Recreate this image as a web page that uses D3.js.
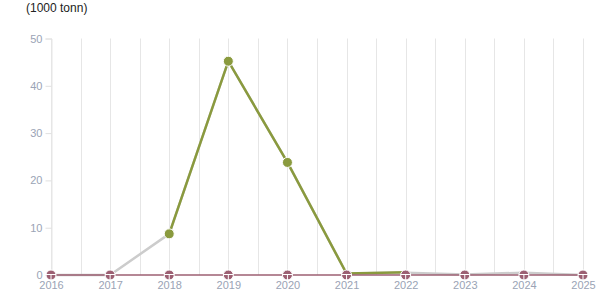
<!DOCTYPE html>
<html>
<head>
<meta charset="utf-8">
<script src="https://cdn.jsdelivr.net/npm/d3@7"></script>
<style>
  body { margin: 0; background: #fff; }
  svg { font-family: "Liberation Sans", Arial, sans-serif; }
</style>
</head>
<body>
<script>
// Data
const years = [2016, 2017, 2018, 2019, 2020, 2021, 2022, 2023, 2024, 2025];
const yTicks = [0, 10, 20, 30, 40, 50];
const greyValues = [0, 0, 8.7, 45.2, 23.8, 0.3, 0.5, 0.1, 0.5, 0];
const greenValues = [null, null, 8.7, 45.2, 23.8, 0.3, 0.6, null, null, null];
const mauveValues = [0, 0, 0, 0, 0, 0, 0, 0, 0, 0];

const width = 615;
const height = 305;

const svg = d3.select("body").append("svg")
    .attr("width", width)
    .attr("height", height);

const x = d3.scaleLinear().domain([2016, 2025]).range([51, 583]);
const y = d3.scaleLinear().domain([0, 50]).range([275, 38.5]);

// title
svg.append("text")
    .attr("x", 26).attr("y", 12)
    .attr("font-size", 12).attr("fill", "#222")
    .text("(1000 tonn)");

// vertical grid every half year
const gridVals = d3.range(2016, 2025.01, 0.5);
svg.append("g").selectAll("line")
    .data(gridVals)
    .enter().append("line")
    .attr("x1", d => Math.round(x(d)) + 0.5)
    .attr("x2", d => Math.round(x(d)) + 0.5)
    .attr("y1", y(50))
    .attr("y2", y(0))
    .attr("stroke", "#e6e6e6")
    .attr("stroke-width", 1);

// y axis
const yAxis = svg.append("g")
    .attr("transform", "translate(51.5,0)")
    .call(d3.axisLeft(y).tickValues(yTicks).tickSize(6).tickPadding(3));
yAxis.select(".domain").attr("stroke", "#e6e6e6");
yAxis.selectAll(".tick line").attr("stroke", "#e0e0e0");
yAxis.selectAll(".tick text").attr("fill", "#9aa3b5").attr("font-size", 11)
    .attr("font-family", "Liberation Sans, Arial, sans-serif");

// x axis labels
const xAxis = svg.append("g")
    .attr("transform", "translate(0,277)")
    .call(d3.axisBottom(x).tickValues(years).tickFormat(d3.format("d")).tickSize(0).tickPadding(4));
xAxis.select(".domain").remove();
xAxis.selectAll(".tick text").attr("fill", "#9aa3b5").attr("font-size", 11)
    .attr("font-family", "Liberation Sans, Arial, sans-serif");

const line = d3.line()
    .defined(d => d.v !== null)
    .x(d => x(d.year))
    .y(d => y(d.v));

const toPts = vals => years.map((yr, i) => ({ year: yr, v: vals[i] }));

// grey series
svg.append("path")
    .datum(toPts(greyValues))
    .attr("d", line)
    .attr("fill", "none")
    .attr("stroke", "#cccccc")
    .attr("stroke-width", 2.5);

// green series
const greenPts = toPts(greenValues);
svg.append("path")
    .datum(greenPts)
    .attr("d", line)
    .attr("fill", "none")
    .attr("stroke", "#8a9a3e")
    .attr("stroke-width", 2.5);

svg.append("g").selectAll("circle")
    .data(greenPts.filter(d => d.v !== null && d.v > 1))
    .enter().append("circle")
    .attr("cx", d => x(d.year))
    .attr("cy", d => y(d.v))
    .attr("r", 5)
    .attr("fill", "#8a9a3e")
    .attr("stroke", "#fff")
    .attr("stroke-width", 1);

// mauve series
const mauvePts = toPts(mauveValues);
svg.append("path")
    .datum(mauvePts)
    .attr("d", line)
    .attr("fill", "none")
    .attr("stroke", "#9c5f72")
    .attr("stroke-width", 1.5);

const mk = svg.append("g").selectAll("g")
    .data(mauvePts)
    .enter().append("g")
    .attr("transform", d => `translate(${x(d.year)},${y(d.v)})`);
mk.append("circle")
    .attr("r", 5)
    .attr("fill", "#9c5f72")
    .attr("stroke", "#fff")
    .attr("stroke-width", 1);
mk.append("line")
    .attr("x1", -5).attr("x2", 5).attr("y1", -0.5).attr("y2", -0.5)
    .attr("stroke", "#fff").attr("stroke-width", 1);
mk.append("line")
    .attr("x1", 0).attr("x2", 0).attr("y1", -0.5).attr("y2", 5)
    .attr("stroke", "#fff").attr("stroke-width", 1);
</script>
</body>
</html>
